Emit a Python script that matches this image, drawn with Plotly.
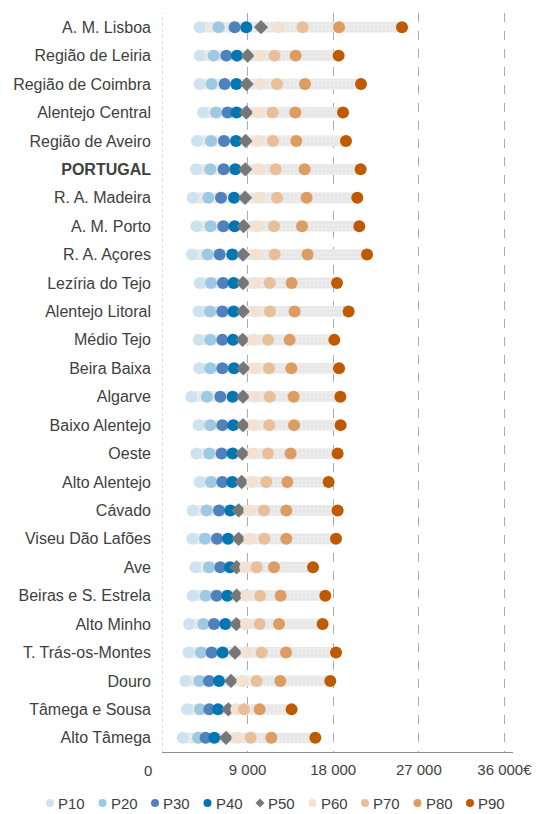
import plotly.graph_objects as go

regions = ["A. M. Lisboa", "Região de Leiria", "Região de Coimbra", "Alentejo Central",
           "Região de Aveiro", "<b>PORTUGAL</b>", "R. A. Madeira", "A. M. Porto", "R. A. Açores",
           "Lezíria do Tejo", "Alentejo Litoral", "Médio Tejo", "Beira Baixa", "Algarve",
           "Baixo Alentejo", "Oeste", "Alto Alentejo", "Cávado", "Viseu Dão Lafões", "Ave",
           "Beiras e S. Estrela", "Alto Minho", "T. Trás-os-Montes", "Douro",
           "Tâmega e Sousa", "Alto Tâmega"]

P10 = [3955, 3955, 3955, 4311, 3680, 3575, 3217, 3607, 3154, 3955, 3848, 3848, 3921,
       3081, 3848, 3607, 3955, 3217, 3186, 3501, 3217, 2839, 2797, 2450, 2629, 2166]
P20 = [5955, 5425, 5215, 5677, 5152, 5078, 4868, 5110, 4794, 5152, 5047, 5078, 5078,
       4731, 5078, 4973, 5152, 4689, 4521, 4941, 4584, 4342, 4100, 3921, 3995, 3785]
P30 = [7635, 6761, 6582, 6897, 6519, 6477, 6203, 6445, 6056, 6414, 6340, 6340, 6340,
       6130, 6340, 6266, 6340, 5993, 5783, 6130, 5741, 5467, 5215, 4941, 4973, 4584]
P40 = [8864, 7885, 7812, 7843, 7780, 7707, 7570, 7633, 7391, 7528, 7528, 7465, 7570,
       7423, 7496, 7423, 7391, 7181, 6939, 7149, 6866, 6656, 6372, 5993, 5888, 5499]
P50 = [10408, 9000, 8895, 8864, 8790, 8758, 8727, 8580, 8517, 8517, 8517, 8475, 8548,
       8517, 8517, 8443, 8370, 8054, 8054, 7843, 7843, 7812, 7675, 7255, 6971, 6729]
P60 = [12262, 10262, 10262, 10093, 10093, 10157, 10199, 9988, 9915, 9736, 9810, 9631, 9810,
       9736, 9673, 9631, 9494, 9179, 9179, 8758, 8864, 8832, 8895, 8443, 7812, 7917]
P70 = [14785, 11839, 12091, 11629, 11671, 11944, 12091, 11776, 11839, 11313, 11355, 11145, 11250,
       11313, 11282, 11145, 10966, 10724, 10756, 9946, 10304, 10262, 10472, 9946, 8622, 9316]
P80 = [18610, 14047, 15035, 14015, 14121, 14993, 15203, 14720, 15308, 13626, 13942, 13416, 13595,
       13837, 13879, 13521, 13174, 13069, 13069, 11776, 12470, 12302, 13037, 12438, 10262, 11492]
P90 = [25233, 18570, 20923, 19031, 19346, 20881, 20534, 20744, 21554, 18400, 19620, 18116, 18610,
       18747, 18778, 18463, 17516, 18463, 18295, 15876, 17169, 16886, 18295, 17695, 13626, 16118]

series_names = ["P10", "P20", "P30", "P40", "P50", "P60", "P70", "P80", "P90"]
series_values = [P10, P20, P30, P40, P50, P60, P70, P80, P90]
series_colors = ["#cde4f0", "#9dcae2", "#4f81bd", "#0077b3", "#777777",
                 "#f3e1d1", "#e8bf98", "#dc9c62", "#c05a00"]

x_ticks = [0, 9000, 18000, 27000, 36000]
x_ticktext = ["", "9 000", "18 000", "27 000", "36 000€"]

FONT = "Liberation Sans, Arial, sans-serif"
TXT = "#404040"

W, H = 539, 814
ML, MR, MT, MB = 162, 26, 13, 62
PW, PH = W - ML - MR, H - MT - MB

fig = go.Figure()

fig.add_trace(go.Bar(
    y=regions, x=[b - a for a, b in zip(P10, P90)], base=P10, orientation="h",
    width=0.38, showlegend=False, hoverinfo="skip",
    marker=dict(color="#ececec", line=dict(width=0),
                pattern=dict(shape="+", fgcolor="#d2d2d2", bgcolor="#ededed", size=4, solidity=0.3)),
))

for name, vals, col in zip(series_names, series_values, series_colors):
    is_med = name == "P50"
    fig.add_trace(go.Scatter(
        y=regions, x=vals, mode="markers", name=name, showlegend=False,
        marker=dict(symbol="diamond" if is_med else "circle",
                    size=11 if is_med else 12, color=col, line=dict(width=0)),
    ))

# dotted line at the value axis origin
fig.add_shape(type="line", xref="x", yref="paper", x0=0, x1=0, y0=0, y1=1,
              line=dict(color="#b8b8b8", width=1, dash="dot"), layer="below")

# legend drawn as a row of small symbols + labels below the axis
leg_y_px = 803
leg_x0_px, leg_step = 50, 52.5
yp = (H - MB - leg_y_px) / PH
for i, (name, col) in enumerate(zip(series_names, series_colors)):
    sx = leg_x0_px + i * leg_step
    xp = (sx - ML) / PW
    if name == "P50":
        fig.add_shape(type="path", xref="paper", yref="paper", xsizemode="pixel", ysizemode="pixel",
                      xanchor=xp, yanchor=yp, path="M -4.5 0 L 0 4.5 L 4.5 0 L 0 -4.5 Z",
                      fillcolor=col, line=dict(width=0))
    else:
        fig.add_shape(type="circle", xref="paper", yref="paper", xsizemode="pixel", ysizemode="pixel",
                      xanchor=xp, yanchor=yp, x0=-4, x1=4, y0=-4, y1=4,
                      fillcolor=col, line=dict(width=0))
    fig.add_annotation(x=xp, y=yp, xref="paper", yref="paper", text=name, showarrow=False,
                       xanchor="left", yanchor="middle", xshift=6,
                       font=dict(size=15, color=TXT, family=FONT))

fig.add_annotation(x=0, y=0, xref="x", yref="paper", text="0", showarrow=False,
                   xshift=-14, yshift=-29, font=dict(size=15, color=TXT, family=FONT))

fig.update_layout(
    width=W, height=H,
    margin=dict(l=ML, r=MR, t=MT, b=MB, autoexpand=False),
    paper_bgcolor="white", plot_bgcolor="white",
    font=dict(family=FONT, color=TXT, size=15),
    barmode="overlay", showlegend=False,
    xaxis=dict(range=[0, 36900], tickvals=x_ticks, ticktext=x_ticktext,
               showgrid=True, gridcolor="#acacac", griddash="dash", gridwidth=1,
               zeroline=False, showline=True, linecolor="#8c8c8c", linewidth=1,
               ticks="", tickfont=dict(size=15), ticklabelstandoff=4, automargin=False),
    yaxis=dict(categoryorder="array", categoryarray=regions, range=[25.5, -0.5],
               showgrid=False, zeroline=False, showline=False, ticks="",
               tickfont=dict(size=16, color=TXT), ticklabelstandoff=10, automargin=False),
)

fig.write_html("out.html", config={"displayModeBar": False},
               post_script="document.body.style.margin='0px';document.body.style.overflow='hidden';")
